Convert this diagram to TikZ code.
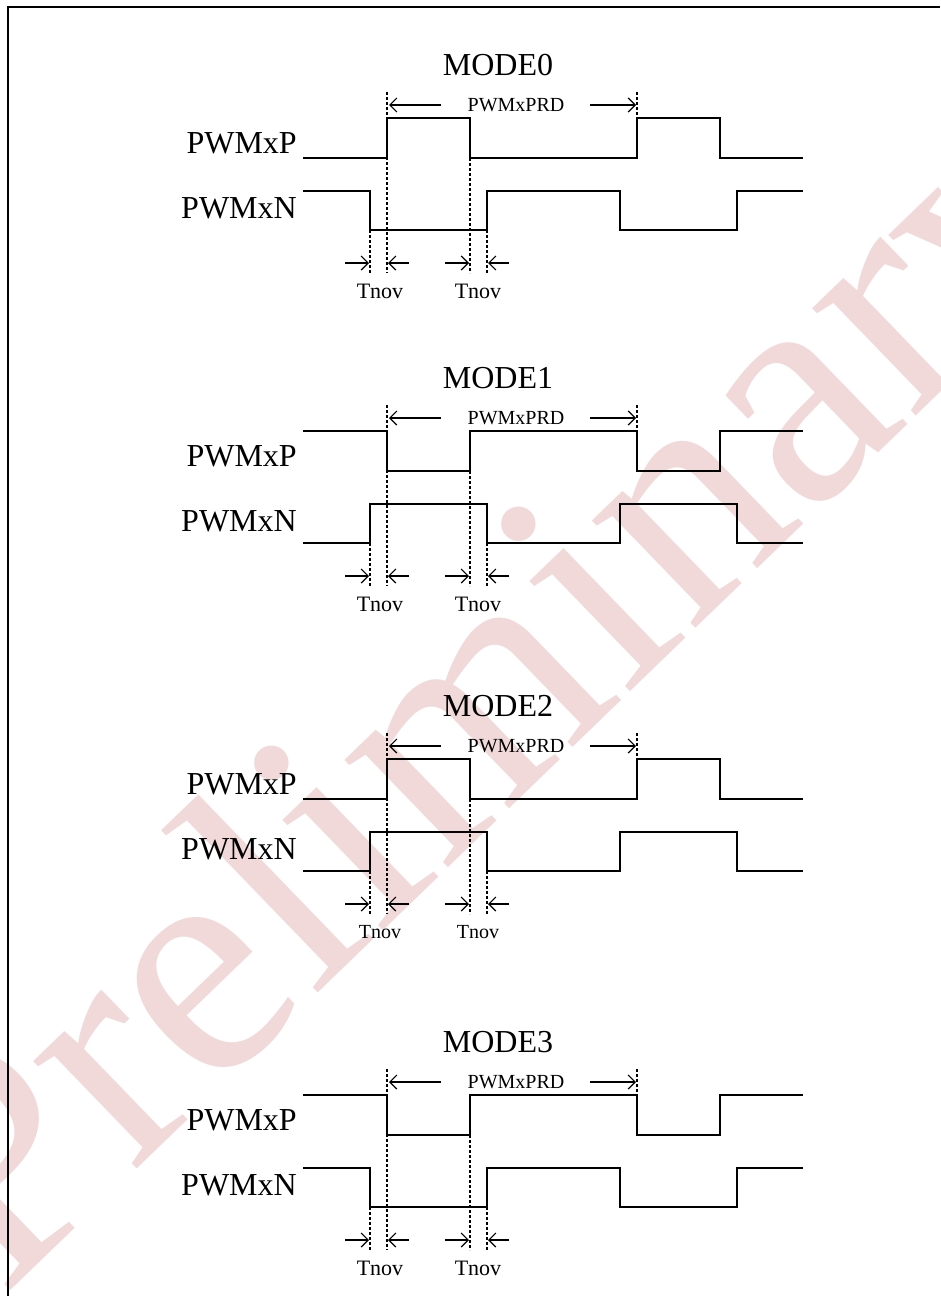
\documentclass[tikz,border=0pt]{standalone}
\usepackage{fontspec}
\setmainfont{Liberation Serif}
\usetikzlibrary{arrows.meta}
\definecolor{wm}{RGB}{241,217,217}
\tikzset{
  wave/.style={line width=1.6pt, line join=miter},
  guide/.style={line width=1.1pt, dash pattern=on 3pt off 2pt},
  dimarrow/.style={line width=1.2pt, -{Straight Barb[length=7pt,width=14pt,line width=1.2pt]}},
  biglabel/.style={inner sep=0pt, font=\fontsize{32}{36}\selectfont},
  smalllabel/.style={inner sep=0pt, font=\fontsize{20}{24}\selectfont},
  frame/.style={line width=2pt}
}
\begin{document}
\begin{tikzpicture}[x=1pt,y=-1pt]
\useasboundingbox (0,0) rectangle (940,1296);
% watermark
\begin{scope}
\clip (0,0) rectangle (940,1296);
\node[text=wm, rotate=44, inner sep=0pt, font=\fontsize{325}{325}\selectfont] (wmark) at (500,710) {Preliminary};
\end{scope}
% frame
\coordinate (ftr) at (940,7);
\coordinate (ftl) at (8,7);
\coordinate (fbl) at (8,1296);
\draw[frame] (ftr) -- (ftl) -- (fbl);
% modes
\foreach \i/\off/\pa/\pb/\na/\nb/\tf in {0/0/158/118/191/230/22, 1/313/118/158/230/191/22, 2/641/158/118/230/191/20, 3/977/118/158/191/230/22}{
  \node[biglabel] (title\i) at (498,65+\off) {MODE\i};
  \node[biglabel, anchor=east] (lp\i) at (297,143+\off) {PWMxP};
  \node[biglabel, anchor=east] (ln\i) at (297,208+\off) {PWMxN};
  \node[smalllabel] (prd\i) at (516,105+\off) {PWMxPRD};
  % waveforms
  \draw[wave] (303,\pa+\off) -- (387,\pa+\off) -- (387,\pb+\off) -- (470,\pb+\off) -- (470,\pa+\off)
     -- (637,\pa+\off) -- (637,\pb+\off) -- (720,\pb+\off) -- (720,\pa+\off) -- (803,\pa+\off);
  \draw[wave] (303,\na+\off) -- (370,\na+\off) -- (370,\nb+\off) -- (487,\nb+\off) -- (487,\na+\off)
     -- (620,\na+\off) -- (620,\nb+\off) -- (737,\nb+\off) -- (737,\na+\off) -- (803,\na+\off);
  % guides
  \coordinate (g1t\i) at (387,92+\off);
  \coordinate (g1b\i) at (387,273+\off);
  \coordinate (g2t\i) at (637,92+\off);
  \coordinate (g2b\i) at (637,118+\off);
  \coordinate (g3t\i) at (370,230+\off);
  \coordinate (g3b\i) at (370,273+\off);
  \coordinate (g4t\i) at (470,158+\off);
  \coordinate (g4b\i) at (470,273+\off);
  \coordinate (g5t\i) at (487,230+\off);
  \coordinate (g5b\i) at (487,273+\off);
  \draw[guide] (g1t\i) -- (g1b\i);
  \draw[guide] (g2t\i) -- (g2b\i);
  \draw[guide] (g3t\i) -- (g3b\i);
  \draw[guide] (g4t\i) -- (g4b\i);
  \draw[guide] (g5t\i) -- (g5b\i);
  % period arrows
  \coordinate (pa1\i) at (441,105+\off);
  \coordinate (pa2\i) at (389,105+\off);
  \coordinate (pa3\i) at (590,105+\off);
  \coordinate (pa4\i) at (636,105+\off);
  \draw[dimarrow] (pa1\i) -- (pa2\i);
  \draw[dimarrow] (pa3\i) -- (pa4\i);
  % Tnov arrows
  \coordinate (t1\i) at (345,263+\off);
  \coordinate (t2\i) at (369,263+\off);
  \coordinate (t3\i) at (409,263+\off);
  \coordinate (t4\i) at (388,263+\off);
  \coordinate (t5\i) at (445,263+\off);
  \coordinate (t6\i) at (469,263+\off);
  \coordinate (t7\i) at (509,263+\off);
  \coordinate (t8\i) at (488,263+\off);
  \draw[dimarrow] (t1\i) -- (t2\i);
  \draw[dimarrow] (t3\i) -- (t4\i);
  \draw[dimarrow] (t5\i) -- (t6\i);
  \draw[dimarrow] (t7\i) -- (t8\i);
  \node[inner sep=0pt, font=\fontsize{\tf}{\tf}\selectfont] (ta\i) at (380,291+\off) {Tnov};
  \node[inner sep=0pt, font=\fontsize{\tf}{\tf}\selectfont] (tb\i) at (478,291+\off) {Tnov};
}
\end{tikzpicture}
\end{document}
